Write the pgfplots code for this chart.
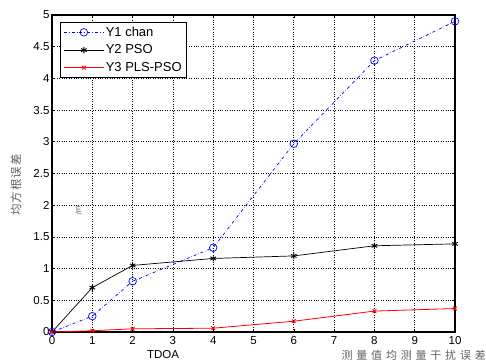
\documentclass[border=0pt]{standalone}
\usepackage{pgfplots}
\pgfplotsset{compat=1.18}
\usepackage{fontspec}
\setmainfont{Liberation Sans}
\newfontfamily\cjk{Noto Sans CJK SC}
\begin{document}
\begin{tikzpicture}[x=1pt,y=1pt]
\useasboundingbox (-52,-31) rectangle (434,332);
\begin{axis}[
  at={(0,0)}, anchor=south west,
  width=403pt, height=317pt, scale only axis,
  xmin=0, xmax=10, ymin=0, ymax=5,
  xtick={0,1,...,10},
  ytick={0,0.5,1,1.5,2,2.5,3,3.5,4,4.5,5},
  yticklabels={0,0.5,1,1.5,2,2.5,3,3.5,4,4.5,5},
  xticklabels={0,1,2,3,4,5,6,7,8,9,10},
  tick align=inside,
  tick style={black, line width=0.6pt},
  major tick length=3pt,
  grid=major,
  major grid style={black, dotted, line width=0.7pt},
  axis line style={black, line width=1.2pt},
  tick label style={font=\fontsize{11.5}{13}\selectfont},
  xticklabel style={yshift=-1pt},
  yticklabel style={xshift=1pt},
  legend style={at={(0.02,0.978)}, anchor=north west, font=\fontsize{13}{15}\selectfont,
    draw=black, line width=0.8pt, inner xsep=3pt, inner ysep=3pt, row sep=4pt,
    nodes={inner sep=1.5pt}},
  legend image code/.code={\draw[mark repeat=2,mark phase=2] plot coordinates {(0pt,0pt) (20pt,0pt) (40pt,0pt)};},
  legend cell align=left,
  clip=false,
]
\addplot[blue, dash dot, line width=0.7pt, mark=o, mark size=3.8pt, mark options={solid}] coordinates {
(0,0) (1,0.25) (2,0.80) (4,1.33) (6,2.97) (8,4.28) (10,4.90)};
\addlegendentry{Y1 chan}
\addplot[black, line width=0.7pt, mark=asterisk, mark size=3.2pt, mark options={solid, line width=0.9pt}] coordinates {
(0,0) (1,0.70) (2,1.05) (4,1.16) (6,1.20) (8,1.36) (10,1.39)};
\addlegendentry{Y2 PSO}
\addplot[red, line width=0.8pt, mark=x, mark size=2.6pt, mark options={solid, line width=0.9pt}] coordinates {
(0,0) (1,0.02) (2,0.05) (4,0.06) (6,0.17) (8,0.33) (10,0.37)};
\addlegendentry{Y3 PLS-PSO}
\end{axis}
\node[rotate=90, text=gray!75!black, font=\cjk\fontsize{11.5}{13}\selectfont] at (-36,147) {均\hspace{1pt}方\hspace{1pt}根\hspace{1pt}误\hspace{1pt}差};
\node[rotate=100, text=gray!75!black, font=\itshape\fontsize{8}{9}\selectfont] at (26,121) {/m};
\node[font=\fontsize{11.5}{13}\selectfont] at (111,-23) {TDOA};
\node[text=gray!75!black, font=\cjk\fontsize{11}{12}\selectfont, anchor=east, inner sep=0pt] at (434,-23) {测\hspace{3.8pt}量\hspace{3.8pt}值\hspace{3.8pt}均\hspace{3.8pt}测\hspace{3.8pt}量\hspace{3.8pt}干\hspace{3.8pt}扰\hspace{3.8pt}误\hspace{3.8pt}差};
\end{tikzpicture}
\end{document}
